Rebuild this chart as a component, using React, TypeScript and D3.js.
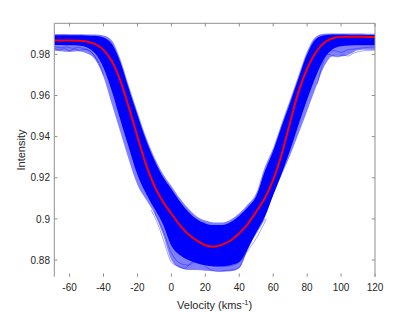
import React from "react";
import * as d3 from "d3";

// Velocity grid (km/s)
const velocity = [-69, -65, -60, -55, -50, -45, -40, -35, -30, -25, -20, -15, -10, -5, 0, 5, 10, 15, 20, 25, 30, 35, 40, 45, 50, 55, 60, 65, 70, 75, 80, 85, 90, 95, 100, 105, 110, 115, 120];

// Mean profile (red)
const meanProfile = [0.9867, 0.9867, 0.9867, 0.9866, 0.9862, 0.985, 0.9822, 0.9765, 0.967, 0.954, 0.94, 0.9265, 0.916, 0.9083, 0.9025, 0.897, 0.8925, 0.8895, 0.8872, 0.8865, 0.8875, 0.8895, 0.893, 0.8975, 0.9035, 0.91, 0.919, 0.9315, 0.947, 0.962, 0.973, 0.9808, 0.9856, 0.9878, 0.9885, 0.9886, 0.9886, 0.9885, 0.9885];

// Envelope of the individual profiles (blue)
const outerUpper = [0.9898, 0.9899, 0.9898, 0.9898, 0.9897, 0.9896, 0.9892, 0.9866, 0.9775, 0.9645, 0.952, 0.94, 0.93, 0.922, 0.916, 0.91, 0.905, 0.9012, 0.8992, 0.8983, 0.8982, 0.8997, 0.9027, 0.907, 0.9125, 0.925, 0.9345, 0.9465, 0.958, 0.97, 0.9815, 0.9885, 0.99, 0.9902, 0.9902, 0.9901, 0.9901, 0.99, 0.99];
const outerLower = [0.9818, 0.9815, 0.9812, 0.9815, 0.9805, 0.9775, 0.969, 0.9555, 0.942, 0.9285, 0.9165, 0.9095, 0.9025, 0.8925, 0.88, 0.8762, 0.8752, 0.8752, 0.8748, 0.8745, 0.8743, 0.8745, 0.876, 0.885, 0.893, 0.9005, 0.912, 0.9215, 0.931, 0.9415, 0.9525, 0.9635, 0.974, 0.979, 0.979, 0.98, 0.982, 0.9822, 0.9822];
const coreUpper = [0.9893, 0.9893, 0.9893, 0.9893, 0.9892, 0.989, 0.9882, 0.985, 0.976, 0.963, 0.9505, 0.9385, 0.9285, 0.9205, 0.9145, 0.9085, 0.9035, 0.8998, 0.8978, 0.897, 0.897, 0.8985, 0.9015, 0.9057, 0.911, 0.923, 0.933, 0.945, 0.9565, 0.9685, 0.98, 0.9873, 0.9893, 0.9896, 0.9896, 0.9895, 0.9895, 0.9894, 0.9894];
const coreLower = [0.9846, 0.9846, 0.9844, 0.9843, 0.9835, 0.9805, 0.9735, 0.962, 0.948, 0.9345, 0.9215, 0.9125, 0.905, 0.8975, 0.887, 0.8825, 0.88, 0.8785, 0.8775, 0.877, 0.877, 0.8775, 0.879, 0.8855, 0.8935, 0.901, 0.9115, 0.922, 0.9335, 0.946, 0.958, 0.969, 0.978, 0.9825, 0.984, 0.9843, 0.9844, 0.9844, 0.9844];

// A few visible outlier profiles (velocity, intensity)
const outlierLeftA: [number, number][] = [[-69, 0.983], [-66, 0.9822], [-63, 0.9828], [-60, 0.9818], [-57, 0.9826], [-54, 0.982], [-51, 0.9824], [-48, 0.9815], [-45, 0.979], [-42, 0.9745], [-40, 0.97]];
const outlierLeftB: [number, number][] = [[-69, 0.9838], [-65, 0.9832], [-62, 0.9836], [-58, 0.9829], [-55, 0.9835], [-52, 0.9828], [-49, 0.9822], [-46, 0.98], [-43, 0.976]];
const outlierRightA: [number, number][] = [[86, 0.9655], [89, 0.975], [92, 0.98], [95, 0.9795], [98, 0.9788], [101, 0.9797], [104, 0.9792], [107, 0.9805], [110, 0.9812], [114, 0.9818], [120, 0.982]];
const outlierRightB: [number, number][] = [[88, 0.9745], [92, 0.9812], [96, 0.9818], [100, 0.981], [104, 0.9822], [108, 0.9826], [112, 0.9831], [116, 0.9834], [120, 0.9836]];
const outlierBottomA: [number, number][] = [[-12, 0.9045], [-8, 0.8975], [-4, 0.888], [0, 0.879], [4, 0.877], [8, 0.876], [12, 0.879], [16, 0.88], [20, 0.877], [24, 0.875], [28, 0.8745], [32, 0.875], [36, 0.8752], [40, 0.8765], [43, 0.882], [46, 0.888], [50, 0.893], [55, 0.9]];
const outlierBottomB: [number, number][] = [[-10, 0.9035], [-5, 0.8945], [0, 0.8835], [5, 0.8785], [10, 0.8775], [15, 0.8795], [20, 0.8785], [25, 0.877], [30, 0.8768], [35, 0.8772], [40, 0.879], [45, 0.8845], [50, 0.8905], [56, 0.9]];

const xTicks = [-60, -40, -20, 0, 20, 40, 60, 80, 100, 120];
const yTicks = [0.88, 0.9, 0.92, 0.94, 0.96, 0.98];

const W = 415;
const H = 312;
const left = 54.3;
const right = 375;
const top = 23.3;
const bottom = 276.7;

export default function App() {
  const x = d3.scaleLinear().domain([-69, 120]).range([left, right]);
  const y = d3.scaleLinear().domain([0.8719, 0.9951]).range([bottom, top]);

  const idx = velocity.map((_, i) => i);
  const areaOuter = d3
    .area<number>()
    .x((i) => x(velocity[i]))
    .y0((i) => y(outerLower[i]))
    .y1((i) => y(outerUpper[i]))
    .curve(d3.curveMonotoneX);
  const areaCore = d3
    .area<number>()
    .x((i) => x(velocity[i]))
    .y0((i) => y(coreLower[i]))
    .y1((i) => y(coreUpper[i]))
    .curve(d3.curveMonotoneX);
  const meanLine = d3
    .line<number>()
    .x((i) => x(velocity[i]))
    .y((i) => y(meanProfile[i]))
    .curve(d3.curveMonotoneX);
  const ptLine = d3
    .line<[number, number]>()
    .x((d) => x(d[0]))
    .y((d) => y(d[1]))
    .curve(d3.curveMonotoneX);

  const outliers = [outlierLeftA, outlierLeftB, outlierRightA, outlierRightB, outlierBottomA, outlierBottomB];
  const axisColor = "#8f8f8f";
  const textColor = "#262626";
  const font = "'Liberation Sans', Arial, Helvetica, sans-serif";
  const tl = 3.2;

  return (
    <svg
      width={W}
      height={H}
      style={{ position: "absolute", left: 0, top: 0, background: "#fff" }}
      fontFamily={font}
    >
      <rect x={0} y={0} width={W} height={H} fill="#fff" />
      <defs>
        <clipPath id="plotclip">
          <rect x={left} y={top} width={right - left} height={bottom - top} />
        </clipPath>
      </defs>
      <g clipPath="url(#plotclip)">
        <path d={areaOuter(idx) || ""} fill="#0000ff" fillOpacity={0.5} />
        <path d={areaCore(idx) || ""} fill="#0000ff" />
        {outliers.map((o, k) => (
          <path key={k} d={ptLine(o) || ""} fill="none" stroke="#0000ff" strokeOpacity={0.6} strokeWidth={0.6} />
        ))}
        <path d={meanLine(idx) || ""} fill="none" stroke="#ff0000" strokeWidth={2} />
      </g>
      {/* axes box (bottom line not visible in the reference) */}
      <line x1={left} x2={right} y1={top} y2={top} stroke={axisColor} strokeWidth={1} />
      <line x1={left} x2={left} y1={top} y2={bottom} stroke={axisColor} strokeWidth={1} />
      <line x1={right} x2={right} y1={top} y2={bottom} stroke={axisColor} strokeWidth={1} />
      {xTicks.map((t) => (
        <g key={"x" + t}>
          <line x1={x(t)} x2={x(t)} y1={bottom} y2={bottom - tl} stroke={axisColor} />
          <line x1={x(t)} x2={x(t)} y1={top} y2={top + tl} stroke={axisColor} />
          <text x={x(t)} y={291} fontSize={10} textAnchor="middle" fill={textColor}>
            {t}
          </text>
        </g>
      ))}
      {yTicks.map((t) => (
        <g key={"y" + t}>
          <line x1={left} x2={left + tl} y1={y(t)} y2={y(t)} stroke={axisColor} />
          <line x1={right} x2={right - tl} y1={y(t)} y2={y(t)} stroke={axisColor} />
          <text x={50} y={y(t) + 3.6} fontSize={10} textAnchor="end" fill={textColor}>
            {String(t)}
          </text>
        </g>
      ))}
      <text x={(left + right) / 2} y={309} fontSize={11} textAnchor="middle" fill={textColor}>
        Velocity (kms<tspan dy={-4} fontSize={7.5}>-1</tspan><tspan dy={4}>)</tspan>
      </text>
      <text
        transform={`translate(25,${(top + bottom) / 2}) rotate(-90)`}
        fontSize={11}
        textAnchor="middle"
        fill={textColor}
      >
        Intensity
      </text>
    </svg>
  );
}
